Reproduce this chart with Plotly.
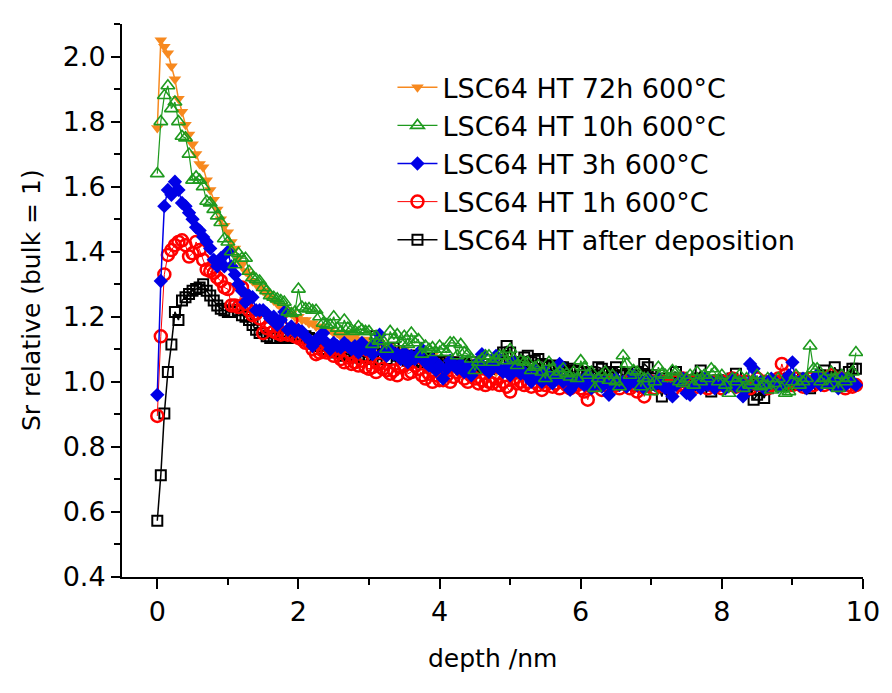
import numpy as np
import plotly.graph_objects as go

# depth grid (nm), 0.05 nm step
depth = np.round(np.arange(199) * 0.05, 2)

sr_72h = [
    1.78, 2.05, 2.03, 2.01, 1.97, 1.93, 1.87, 1.83, 1.79, 1.76, 1.73, 1.70, 1.67, 1.66, 1.62, 1.59, 1.56, 1.53, 1.50, 1.48,
    1.46, 1.43, 1.41, 1.38, 1.36, 1.34, 1.33, 1.31, 1.30, 1.29, 1.28, 1.27, 1.26, 1.25, 1.24, 1.23, 1.22, 1.22, 1.21, 1.20,
    1.20, 1.19, 1.19, 1.18, 1.18, 1.17, 1.17, 1.16, 1.16, 1.16, 1.15, 1.15, 1.14, 1.15, 1.14, 1.13, 1.14, 1.13, 1.12, 1.13,
    1.12, 1.12, 1.11, 1.12, 1.11, 1.10, 1.11, 1.10, 1.10, 1.09, 1.10, 1.09, 1.09, 1.08, 1.09, 1.08, 1.08, 1.07, 1.08, 1.07,
    1.07, 1.07, 1.06, 1.07, 1.06, 1.06, 1.05, 1.06, 1.05, 1.05, 1.05, 1.04, 1.05, 1.04, 1.04, 1.04, 1.03, 1.04, 1.03, 1.04,
    1.03, 1.03, 1.02, 1.03, 1.02, 1.03, 1.02, 1.02, 1.02, 1.01, 1.02, 1.01, 1.02, 1.01, 1.01, 1.01, 1.00, 1.01, 1.01, 1.00,
    1.01, 1.00, 1.01, 1.00, 1.00, 1.01, 1.00, 1.00, 0.99, 1.00, 1.00, 0.99, 1.00, 1.00, 0.99, 1.00, 0.99, 1.00, 1.00, 0.99,
    1.00, 0.99, 1.00, 0.99, 1.00, 1.00, 0.99, 1.00, 0.99, 1.00, 1.00, 0.99, 1.00, 0.99, 0.99, 1.00, 0.99, 1.00, 1.00, 0.99,
    1.00, 0.99, 1.00, 0.99, 1.00, 0.99, 1.00, 1.00, 0.99, 1.00, 0.99, 1.00, 0.99, 1.00, 1.00, 0.99, 1.00, 0.99, 1.00, 1.00,
    0.99, 1.00, 0.99, 1.00, 1.00, 0.99, 1.00, 0.99, 1.00, 1.00, 0.99, 1.00, 0.99, 1.00, 1.00, 0.99, 1.00, 1.00, 0.99,
]

sr_10h = [
    1.64, 1.80, 1.88, 1.91, 1.84, 1.86, 1.80, 1.755, 1.75, 1.70, 1.62, 1.63, 1.62, 1.60, 1.555, 1.55, 1.53, 1.51, 1.49, 1.44,
    1.43, 1.40, 1.36, 1.395, 1.38, 1.38, 1.34, 1.32, 1.315, 1.31, 1.29, 1.28, 1.265, 1.26, 1.255, 1.25, 1.245, 1.215, 1.21, 1.215,
    1.285, 1.23, 1.225, 1.225, 1.22, 1.22, 1.20, 1.18, 1.175, 1.175, 1.20, 1.165, 1.155, 1.19, 1.165, 1.16, 1.155, 1.17, 1.16, 1.155,
    1.155, 1.115, 1.14, 1.125, 1.125, 1.10, 1.155, 1.13, 1.145, 1.12, 1.14, 1.115, 1.15, 1.12, 1.13, 1.085, 1.11, 1.10, 1.105, 1.09,
    1.11, 1.10, 1.09, 1.12, 1.12, 1.08, 1.115, 1.09, 1.085, 1.07, 1.035, 1.06, 1.07, 1.08, 1.08, 1.06, 1.07, 1.08, 1.08, 1.065,
    1.10, 1.07, 1.05, 1.065, 1.06, 1.06, 1.035, 1.045, 1.05, 1.03, 1.01, 1.06, 1.04, 1.02, 1.03, 1.04, 1.025, 1.015, 1.03, 1.01,
    1.065, 1.045, 1.02, 1.03, 0.98, 1.01, 1.02, 1.03, 1.005, 1.02, 1.00, 0.985, 1.08, 1.055, 1.02, 1.035, 1.03, 0.985, 1.01, 1.01,
    0.97, 1.00, 1.045, 1.025, 1.02, 1.01, 1.035, 1.03, 1.00, 0.995, 1.01, 1.02, 0.99, 1.03, 1.00, 1.02, 1.01, 1.04, 1.03, 1.00,
    1.02, 0.99, 0.965, 1.01, 1.00, 1.02, 0.98, 1.01, 0.99, 1.00, 1.02, 0.985, 0.99, 1.01, 0.975, 0.995, 1.01, 0.98, 0.965, 0.97,
    1.00, 1.02, 0.99, 1.00, 1.01, 1.11, 1.04, 1.04, 1.00, 1.01, 0.99, 1.03, 1.01, 0.98, 1.02, 1.00, 1.01, 1.03, 1.09,
]

sr_3h = [
    0.96, 1.31, 1.54, 1.59, 1.575, 1.615, 1.59, 1.55, 1.54, 1.52, 1.50, 1.475, 1.465, 1.445, 1.43, 1.41, 1.375, 1.355, 1.38, 1.355,
    1.40, 1.355, 1.33, 1.30, 1.28, 1.245, 1.265, 1.26, 1.22, 1.22, 1.22, 1.21, 1.195, 1.20, 1.175, 1.19, 1.215, 1.16, 1.17, 1.155,
    1.16, 1.155, 1.14, 1.13, 1.11, 1.125, 1.14, 1.15, 1.12, 1.10, 1.12, 1.11, 1.105, 1.12, 1.11, 1.10, 1.11, 1.09, 1.12, 1.10,
    1.10, 1.085, 1.12, 1.145, 1.09, 1.08, 1.10, 1.085, 1.085, 1.07, 1.09, 1.06, 1.08, 1.07, 1.085, 1.10, 1.06, 1.05, 1.07, 1.035,
    1.05, 1.01, 1.04, 1.065, 1.05, 1.04, 1.055, 1.03, 1.045, 1.02, 1.05, 1.06, 1.085, 1.04, 1.03, 1.05, 1.08, 1.04, 1.03, 1.045,
    1.02, 1.06, 1.035, 1.025, 1.03, 1.015, 1.00, 1.04, 1.02, 1.00, 1.03, 1.01, 0.995, 1.02, 1.055, 1.00, 1.01, 0.975, 0.99, 1.01,
    1.00, 0.99, 1.02, 0.98, 1.00, 1.01, 0.985, 1.00, 0.96, 0.99, 1.01, 0.99, 1.00, 0.985, 1.00, 1.02, 0.99, 1.00, 0.98, 1.01,
    1.00, 0.99, 1.01, 0.99, 0.98, 0.98, 0.955, 0.99, 1.00, 1.01, 0.965, 0.96, 0.99, 1.00, 0.98, 1.01, 0.99, 1.00, 0.98, 0.995,
    1.00, 0.98, 0.99, 1.01, 0.985, 1.00, 0.955, 0.98, 1.055, 1.04, 0.99, 1.00, 0.98, 0.99, 1.01, 1.00, 0.985, 0.99, 1.00, 1.02,
    1.06, 1.00, 0.99, 1.01, 0.98, 0.99, 1.00, 1.02, 0.99, 1.00, 1.01, 0.99, 1.00, 0.98, 1.01, 0.99, 1.00, 1.00, 0.99,
]

sr_1h = [
    0.895, 1.14, 1.33, 1.39, 1.405, 1.42, 1.43, 1.435, 1.42, 1.385, 1.395, 1.43, 1.405, 1.375, 1.345, 1.34, 1.335, 1.32, 1.31, 1.29,
    1.285, 1.235, 1.235, 1.23, 1.29, 1.24, 1.22, 1.205, 1.21, 1.195, 1.15, 1.165, 1.17, 1.155, 1.15, 1.145, 1.15, 1.145, 1.19, 1.14,
    1.135, 1.13, 1.12, 1.12, 1.10, 1.085, 1.09, 1.095, 1.09, 1.10, 1.08, 1.09, 1.07, 1.06, 1.075, 1.055, 1.06, 1.05, 1.065, 1.045,
    1.04, 1.045, 1.03, 1.055, 1.04, 1.035, 1.025, 1.035, 1.02, 1.045, 1.05, 1.025, 1.03, 1.05, 1.04, 1.02, 1.01, 1.025, 1.00, 1.02,
    1.005, 1.005, 1.02, 1.00, 1.015, 1.03, 1.035, 1.01, 1.00, 1.02, 1.01, 0.995, 1.005, 0.99, 1.00, 0.995, 1.01, 0.99, 1.00, 0.985,
    0.97, 1.01, 0.995, 1.00, 0.99, 1.00, 0.985, 1.00, 0.99, 0.975, 0.99, 1.00, 0.985, 0.995, 0.98, 1.00, 0.99, 0.98, 0.995, 0.99,
    0.98, 0.97, 0.945, 0.985, 0.99, 1.00, 0.975, 0.99, 0.985, 1.00, 0.99, 0.98, 0.995, 1.00, 0.98, 0.99, 0.97, 0.985, 0.955, 0.99,
    1.00, 0.98, 0.99, 1.00, 0.985, 0.99, 0.975, 1.00, 0.99, 1.01, 0.98, 0.99, 1.00, 0.985, 0.995, 1.00, 0.98, 0.99, 1.00, 0.99,
    0.98, 1.00, 0.99, 1.01, 0.985, 1.00, 0.99, 1.00, 0.98, 0.995, 1.01, 0.99, 1.00, 0.98, 0.99, 1.00, 1.01, 1.055, 1.02, 1.00,
    0.99, 1.01, 1.00, 0.985, 1.00, 1.01, 0.99, 1.00, 1.01, 0.99, 1.00, 1.02, 1.00, 0.99, 1.01, 0.98, 0.99, 0.985, 0.99,
]

sr_dep = [
    0.573, 0.713, 0.903, 1.03, 1.115, 1.215, 1.19, 1.25, 1.26, 1.27, 1.28, 1.285, 1.29, 1.30, 1.28, 1.265, 1.25, 1.235, 1.225, 1.22,
    1.215, 1.215, 1.235, 1.22, 1.205, 1.20, 1.19, 1.175, 1.16, 1.15, 1.15, 1.14, 1.135, 1.135, 1.135, 1.14, 1.14, 1.135, 1.14, 1.145,
    1.145, 1.14, 1.14, 1.135, 1.13, 1.12, 1.11, 1.10, 1.10, 1.095, 1.09, 1.095, 1.09, 1.08, 1.085, 1.08, 1.075, 1.08, 1.08, 1.075,
    1.08, 1.07, 1.14, 1.10, 1.085, 1.07, 1.09, 1.105, 1.08, 1.075, 1.07, 1.065, 1.08, 1.06, 1.075, 1.065, 1.06, 1.07, 1.055, 1.06,
    1.06, 1.05, 1.065, 1.055, 1.06, 1.05, 1.045, 1.055, 1.05, 1.06, 1.04, 1.05, 1.045, 1.055, 1.04, 1.05, 1.045, 1.06, 1.09, 1.11,
    1.09, 1.06, 1.055, 1.06, 1.075, 1.08, 1.06, 1.065, 1.07, 1.055, 1.05, 1.045, 1.05, 1.04, 1.045, 1.045, 1.035, 1.04, 1.03, 1.035,
    1.02, 1.03, 1.025, 1.03, 1.02, 1.045, 1.04, 1.025, 1.03, 1.02, 1.045, 1.03, 1.02, 1.025, 1.015, 1.02, 1.03, 1.02, 1.055, 1.045,
    1.02, 1.01, 0.99, 0.955, 0.995, 1.01, 1.00, 1.03, 1.01, 1.00, 1.005, 0.99, 1.00, 1.01, 1.035, 1.00, 0.99, 0.97, 1.00, 1.005,
    0.99, 1.00, 0.995, 1.01, 1.025, 1.00, 0.99, 0.985, 0.99, 0.945, 0.96, 0.975, 0.95, 0.98, 0.99, 1.00, 0.995, 1.00, 0.99, 1.01,
    1.00, 0.99, 1.00, 1.01, 0.995, 0.98, 1.00, 1.01, 1.02, 1.035, 1.01, 1.00, 1.045, 1.02, 1.00, 1.01, 1.03, 1.04, 1.04,
]

names = {
    "72h": "LSC64 HT 72h 600°C",
    "10h": "LSC64 HT 10h 600°C",
    "3h": "LSC64 HT 3h 600°C",
    "1h": "LSC64 HT 1h 600°C",
    "dep": "LSC64 HT after deposition",
}

FONT = "DejaVu Sans"

# drawing order (bottom -> top) with legend rank
series = [
    ("72h", sr_72h, "#F7891F", 1.5, dict(symbol="triangle-down", size=11, color="#F7891F", line=dict(width=0)), 1),
    ("dep", sr_dep, "#000000", 1.5, dict(symbol="square-open", size=10, color="#000000", line=dict(width=2)), 5),
    ("1h", sr_1h, "#FF0000", 1.0, dict(symbol="circle-open", size=12, color="#FF0000", line=dict(width=2.5)), 4),
    ("3h", sr_3h, "#0000E6", 1.5, dict(symbol="diamond", size=11, color="#0000E6", line=dict(width=0)), 3),
    ("10h", sr_10h, "#1E9A1E", 1.2, dict(symbol="triangle-up-open", size=12, color="#1E9A1E", line=dict(width=1.6)), 2),
]

fig = go.Figure()
for key, vals, col, lw, mk, rank in series:
    n = len(vals)
    fig.add_trace(go.Scatter(
        x=depth[:n], y=vals, mode="lines+markers", name=names[key],
        line=dict(color=col, width=lw), marker=mk,
        legendrank=rank,
    ))

fig.update_layout(
    width=892, height=693,
    margin=dict(l=122, r=19, t=24, b=116),
    paper_bgcolor="white", plot_bgcolor="white",
    font=dict(family=FONT, size=26, color="black"),
    showlegend=True,
    legend=dict(
        x=0.365, y=0.929, xanchor="left", yanchor="top",
        font=dict(family=FONT, size=27, color="black"),
        bgcolor="rgba(0,0,0,0)", tracegroupgap=0,
        itemwidth=40,
    ),
    xaxis=dict(
        range=[-0.5, 10], dtick=2, tick0=0, showgrid=False, zeroline=False,
        showline=True, linecolor="black", linewidth=2, mirror=False,
        ticks="outside", ticklen=10, tickwidth=2, tickcolor="black",
        minor=dict(dtick=1, ticks="outside", ticklen=6, tickwidth=2, tickcolor="black", showgrid=False),
        tickfont=dict(family=FONT, size=27),
    ),
    yaxis=dict(
        range=[0.4, 2.1], dtick=0.2, tick0=0.4, tickformat=".1f", showgrid=False, zeroline=False,
        showline=True, linecolor="black", linewidth=2, mirror=False,
        ticks="outside", ticklen=9, tickwidth=2, tickcolor="black",
        minor=dict(dtick=0.1, ticks="outside", ticklen=6, tickwidth=2, tickcolor="black", showgrid=False),
        tickfont=dict(family=FONT, size=27),
    ),
    annotations=[
        dict(text="depth /nm", xref="paper", yref="paper", x=0.5, y=-0.148,
             xanchor="center", yanchor="middle", showarrow=False,
             font=dict(family=FONT, size=25)),
        dict(text="Sr relative (bulk = 1)", xref="paper", yref="paper", x=-0.122, y=0.5,
             xanchor="center", yanchor="middle", textangle=-90, showarrow=False,
             font=dict(family=FONT, size=25)),
    ],
)

fig.write_html("out.html")
